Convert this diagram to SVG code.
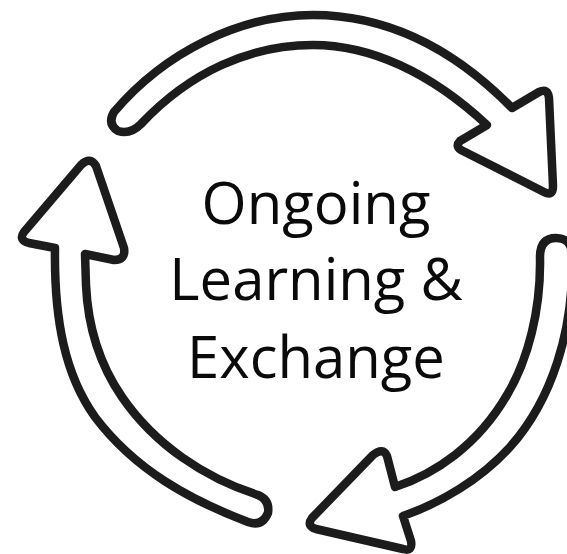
<svg xmlns="http://www.w3.org/2000/svg" width="567" height="554" viewBox="0 0 567 554">
<style>
.a{fill:#fff;stroke:#1c1c1c;stroke-width:8.5;stroke-linejoin:round;stroke-linecap:round}
.t{font-family:"Open Sans","Noto Sans",sans-serif;font-size:58px;fill:#0a0a0a;text-anchor:middle}
</style>
<rect width="567" height="554" fill="#fff"/>
<g id="connectors">
<path id="arrow-top" class="a" d="M114 112C165 52 240 15 313 15C390 15 455 50 512 108L539 92Q548 88 549 98L553 186Q553 197 544 192L461 150Q455 146 460 141L487 125C430 72 370 45 313 45C250 45 190 72 141 124Q130 135 118 131Q107 124 114 112Z"/>
<path id="arrow-right" class="a" d="M540 257Q540 238 556 238Q572 238 572 256C574 330 552 400 510 447C480 480 440 503 403 516L411 541Q413 552 403 549L316 529Q306 526 312 518L373 455Q383 447 387 456L395 487C435 474 478 445 507 395C528 360 541 310 540 257Z"/>
<path id="arrow-left" class="a" d="M85 254L86 285C88 330 100 365 122 397C155 445 205 478 258 495Q270 500 268 513Q262 527 248 522C190 500 135 470 95 417C65 375 54 320 55 248L29 243Q18 240 24 232L81 165Q90 156 96 166L124 248Q126 260 114 260Z"/>
</g>
<g id="label">
<text class="t" x="316" y="224">Ongoing</text>
<text class="t" x="316" y="300">Learning &amp;</text>
<text class="t" x="316" y="378">Exchange</text>
</g>
</svg>
